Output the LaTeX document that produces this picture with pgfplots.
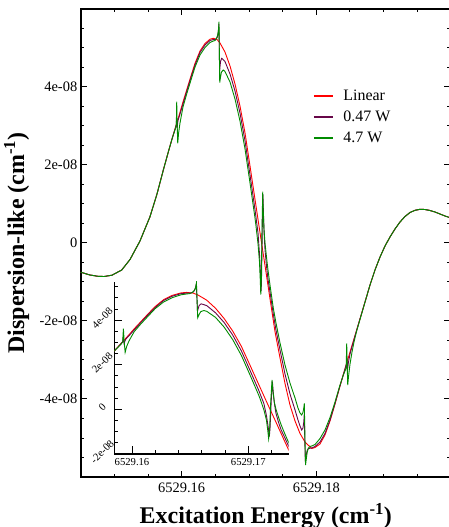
\documentclass[border=0pt]{standalone}
\usepackage{fontspec}
\setmainfont{Liberation Serif}
\usepackage{pgfplots}
\usepackage{pgfplotstable}
\pgfplotsset{compat=1.18}

\definecolor{linred}{RGB}{255,0,0}
\definecolor{lowpow}{RGB}{103,7,72}
\definecolor{highpow}{RGB}{0,139,0}

% x: excitation energy minus 6529 cm^-1; y: dispersion-like signal (cm^-1)
\pgfplotstableread{
x y
0.14500 -0.7500e-8
0.14637 -0.8205e-8
0.14756 -0.8538e-8
0.14846 -0.8590e-8
0.14964 -0.8256e-8
0.15109 -0.6923e-8
0.15232 -0.4231e-8
0.15380 0.0513e-8
0.15529 0.6744e-8
0.15633 1.2564e-8
0.15727 1.8718e-8
0.15801 2.3333e-8
0.15856 2.6667e-8
0.15926 3.0692e-8
0.15975 3.3513e-8
0.16019 3.6154e-8
0.16074 3.9231e-8
0.16138 4.2821e-8
0.16198 4.6077e-8
0.16272 4.9231e-8
0.16346 5.1154e-8
0.16421 5.2256e-8
0.16470 5.2487e-8
0.16525 5.2179e-8
0.16569 5.1282e-8
0.16643 4.8974e-8
0.16718 4.5385e-8
0.16792 4.0769e-8
0.16866 3.5128e-8
0.16941 2.8205e-8
0.17015 1.9744e-8
0.17089 1.1205e-8
0.17163 0.2692e-8
0.17238 -0.5795e-8
0.17312 -1.4308e-8
0.17386 -2.2692e-8
0.17461 -2.9487e-8
0.17535 -3.6026e-8
0.17609 -4.1538e-8
0.17684 -4.5641e-8
0.17758 -4.8846e-8
0.17832 -5.1026e-8
0.17932 -5.2692e-8
0.17981 -5.2436e-8
0.18055 -5.1538e-8
0.18129 -4.9231e-8
0.18204 -4.5641e-8
0.18278 -4.1282e-8
0.18352 -3.6667e-8
0.18426 -3.2308e-8
0.18501 -2.7949e-8
0.18600 -2.2308e-8
0.18724 -1.5128e-8
0.18798 -1.0769e-8
0.18872 -0.6923e-8
0.18947 -0.3590e-8
0.19021 -0.0769e-8
0.19095 0.1538e-8
0.19169 0.3590e-8
0.19244 0.5385e-8
0.19318 0.6795e-8
0.19392 0.7821e-8
0.19467 0.8385e-8
0.19541 0.8641e-8
0.19615 0.8590e-8
0.19689 0.8333e-8
0.19764 0.7949e-8
0.19838 0.7436e-8
0.19912 0.6923e-8
0.20000 0.6410e-8
}\linear

\pgfplotstableread{
x y
0.14500 -0.7500e-8
0.14637 -0.8205e-8
0.14756 -0.8538e-8
0.14846 -0.8590e-8
0.14964 -0.8256e-8
0.15109 -0.6923e-8
0.15232 -0.4231e-8
0.15380 0.0513e-8
0.15529 0.6744e-8
0.15633 1.2564e-8
0.15727 1.8718e-8
0.15801 2.3333e-8
0.15856 2.6667e-8
0.15908 2.9615e-8
0.15920 3.0385e-8
0.15924 3.2051e-8
0.15932 2.9487e-8
0.15945 3.1410e-8
0.15975 3.3077e-8
0.16019 3.5641e-8
0.16074 3.8846e-8
0.16138 4.2436e-8
0.16198 4.5641e-8
0.16272 4.8846e-8
0.16346 5.0769e-8
0.16421 5.1923e-8
0.16470 5.2179e-8
0.16502 5.2179e-8
0.16528 5.2692e-8
0.16542 5.3846e-8
0.16553 5.6154e-8
0.16559 4.9487e-8
0.16563 4.4103e-8
0.16577 4.6538e-8
0.16594 4.7359e-8
0.16614 4.7051e-8
0.16643 4.6538e-8
0.16718 4.3333e-8
0.16792 3.8974e-8
0.16866 3.3333e-8
0.16941 2.6154e-8
0.17015 1.7436e-8
0.17089 0.8590e-8
0.17134 0.2564e-8
0.17156 -0.2821e-8
0.17171 -0.7949e-8
0.17181 -1.2308e-8
0.17187 -0.8205e-8
0.17198 0.4615e-8
0.17207 1.2436e-8
0.17214 0.7949e-8
0.17226 0.2051e-8
0.17238 -0.1795e-8
0.17260 -0.5897e-8
0.17282 -0.9231e-8
0.17312 -1.2564e-8
0.17361 -1.8205e-8
0.17401 -2.2308e-8
0.17461 -2.7436e-8
0.17535 -3.3590e-8
0.17609 -3.8718e-8
0.17684 -4.2821e-8
0.17728 -4.5385e-8
0.17758 -4.6923e-8
0.17783 -4.7949e-8
0.17802 -4.7436e-8
0.17814 -4.5897e-8
0.17822 -4.3667e-8
0.17829 -5.0513e-8
0.17837 -5.6154e-8
0.17850 -5.4359e-8
0.17866 -5.3077e-8
0.17884 -5.2692e-8
0.17932 -5.2564e-8
0.17981 -5.2179e-8
0.18055 -5.1026e-8
0.18129 -4.8846e-8
0.18204 -4.5385e-8
0.18278 -4.1154e-8
0.18352 -3.6667e-8
0.18426 -3.2308e-8
0.18449 -3.0897e-8
0.18453 -2.8974e-8
0.18462 -3.2821e-8
0.18478 -3.0513e-8
0.18501 -2.8462e-8
0.18531 -2.6538e-8
0.18600 -2.2308e-8
0.18724 -1.5128e-8
0.18798 -1.0769e-8
0.18872 -0.6923e-8
0.18947 -0.3590e-8
0.19021 -0.0769e-8
0.19095 0.1538e-8
0.19169 0.3590e-8
0.19244 0.5385e-8
0.19318 0.6795e-8
0.19392 0.7821e-8
0.19467 0.8385e-8
0.19541 0.8641e-8
0.19615 0.8590e-8
0.19689 0.8333e-8
0.19764 0.7949e-8
0.19838 0.7436e-8
0.19912 0.6923e-8
0.20000 0.6410e-8
}\lowW

\pgfplotstableread{
x y
0.14500 -0.7500e-8
0.14637 -0.8205e-8
0.14756 -0.8538e-8
0.14846 -0.8590e-8
0.14964 -0.8256e-8
0.15109 -0.6923e-8
0.15232 -0.4231e-8
0.15380 0.0513e-8
0.15529 0.6744e-8
0.15633 1.2564e-8
0.15727 1.8718e-8
0.15801 2.3333e-8
0.15856 2.6667e-8
0.15886 2.8205e-8
0.15908 2.9359e-8
0.15920 3.0256e-8
0.15926 3.6231e-8
0.15933 3.0256e-8
0.15941 2.5564e-8
0.15954 2.8205e-8
0.15975 3.0769e-8
0.16019 3.4872e-8
0.16074 3.8205e-8
0.16138 4.1795e-8
0.16198 4.5128e-8
0.16272 4.8205e-8
0.16346 5.0128e-8
0.16421 5.1410e-8
0.16470 5.1795e-8
0.16495 5.1923e-8
0.16517 5.2436e-8
0.16535 5.3333e-8
0.16547 5.4615e-8
0.16554 5.6744e-8
0.16559 4.9487e-8
0.16565 4.1103e-8
0.16577 4.2564e-8
0.16591 4.3846e-8
0.16618 4.4359e-8
0.16643 4.3974e-8
0.16718 4.1282e-8
0.16792 3.6923e-8
0.16866 3.1282e-8
0.16941 2.4103e-8
0.17015 1.5385e-8
0.17089 0.6410e-8
0.17104 0.4359e-8
0.17134 -0.0256e-8
0.17156 -0.4872e-8
0.17168 -0.9744e-8
0.17175 -1.3205e-8
0.17183 -0.9487e-8
0.17193 0.3333e-8
0.17204 1.3154e-8
0.17211 0.8462e-8
0.17223 0.3333e-8
0.17238 0
0.17260 -0.3590e-8
0.17282 -0.6923e-8
0.17312 -1.0769e-8
0.17361 -1.6667e-8
0.17401 -2.0513e-8
0.17461 -2.5641e-8
0.17535 -3.1282e-8
0.17609 -3.5897e-8
0.17684 -3.9744e-8
0.17728 -4.2308e-8
0.17758 -4.3590e-8
0.17783 -4.4103e-8
0.17802 -4.3462e-8
0.17814 -4.2308e-8
0.17822 -4.1103e-8
0.17829 -4.7949e-8
0.17840 -5.6923e-8
0.17851 -5.5385e-8
0.17865 -5.3590e-8
0.17881 -5.2641e-8
0.17906 -5.2179e-8
0.17932 -5.2051e-8
0.17981 -5.1667e-8
0.18055 -5.0128e-8
0.18129 -4.7949e-8
0.18204 -4.4744e-8
0.18278 -4.0769e-8
0.18352 -3.6410e-8
0.18397 -3.4103e-8
0.18426 -3.2821e-8
0.18444 -3.2051e-8
0.18452 -2.5718e-8
0.18459 -3.1282e-8
0.18467 -3.6410e-8
0.18478 -3.4359e-8
0.18501 -3.1026e-8
0.18531 -2.7949e-8
0.18560 -2.5385e-8
0.18600 -2.2564e-8
0.18724 -1.5128e-8
0.18798 -1.0769e-8
0.18872 -0.6923e-8
0.18947 -0.3590e-8
0.19021 -0.0769e-8
0.19095 0.1538e-8
0.19169 0.3590e-8
0.19244 0.5385e-8
0.19318 0.6795e-8
0.19392 0.7821e-8
0.19467 0.8385e-8
0.19541 0.8641e-8
0.19615 0.8590e-8
0.19689 0.8333e-8
0.19764 0.7949e-8
0.19838 0.7436e-8
0.19912 0.6923e-8
0.20000 0.6410e-8
}\highW

\begin{document}
\begin{tikzpicture}
\useasboundingbox (-80.75bp,-50bp) rectangle (368.25bp,477bp);

% full scan
\begin{axis}[
  at={(0,0)}, anchor=south west,
  scale only axis, width=370.15bp, height=468bp,
  xmin=0.145, xmax=0.2, ymin=-6e-8, ymax=6e-8,
  scaled x ticks=false, scaled y ticks=false,
  xtick={0.16,0.18}, xticklabels={6529.16,6529.18},
  minor xtick={0.145,0.15,0.155,0.165,0.17,0.175,0.185,0.19,0.195},
  ytick={-4e-8,-2e-8,0,2e-8,4e-8},
  yticklabels={-4e-08,-2e-08,0,2e-08,4e-08},
  minor ytick={-5.5e-8,-5e-8,-4.5e-8,-3.5e-8,-3e-8,-2.5e-8,-1.5e-8,-1e-8,-0.5e-8,
               0.5e-8,1e-8,1.5e-8,2.5e-8,3e-8,3.5e-8,4.5e-8,5e-8,5.5e-8},
  tick align=inside,
  major tick length=6.5bp, minor tick length=3.5bp,
  tick style={black, line width=1bp},
  axis line style={line width=1.6bp},
  ticklabel style={font=\fontsize{14.5}{17}\selectfont},
  xticklabel style={yshift=-2bp},
  xlabel={Excitation Energy (cm\textsuperscript{-1})},
  ylabel={Dispersion-like (cm\textsuperscript{-1})},
  label style={font=\fontsize{24}{28}\selectfont\bfseries},
  xlabel style={at={(axis description cs:0.5,-0.0989)}, anchor=base},
  ylabel style={at={(axis description cs:-0.1533,0.5)}, anchor=base},
  legend style={at={(0.6274,0.8318)}, anchor=north west, draw=none, fill=none,
    inner sep=0pt, row sep=5bp, column sep=8bp,
    font=\fontsize{16}{19}\selectfont},
  legend cell align=left,
  legend image code/.code={\draw[#1] (0bp,0bp) -- (19bp,0bp);},
]
\addplot[linred, line width=0.9bp, forget plot] table[x=x, y=y] {\linear};
\addplot[lowpow, line width=0.9bp, forget plot] table[x=x, y=y] {\lowW};
\addplot[highpow, line width=0.9bp, forget plot] table[x=x, y=y] {\highW};
\addlegendimage{draw=linred, line width=1.2bp}
\addlegendentry{Linear}
\addlegendimage{draw=lowpow, line width=1.2bp}
\addlegendentry{0.47 W}
\addlegendimage{draw=highpow, line width=1.2bp}
\addlegendentry{4.7 W}
\end{axis}

% enlarged view of the central region
\begin{axis}[
  at={(33.55bp,23.2bp)}, anchor=south west,
  scale only axis, width=174.4bp, height=172.1bp,
  xmin=0.158478, xmax=0.173474, ymin=-2e-8, ymax=5.73e-8,
  scaled x ticks=false, scaled y ticks=false,
  axis x line*=bottom, axis y line*=left,
  xtick={0.16,0.17}, xticklabels={6529.16,6529.17},
  minor xtick={0.162,0.164,0.166,0.168,0.172},
  ytick={-2e-8,0,2e-8,4e-8}, yticklabels={-2e-08,0,2e-08,4e-08},
  minor ytick={-1.5e-8,-1e-8,-0.5e-8,0.5e-8,1e-8,1.5e-8,2.5e-8,3e-8,3.5e-8,4.5e-8,5e-8,5.5e-8},
  tick align=inside,
  major tick length=7.5bp, minor tick length=4bp,
  tick style={black, line width=1bp},
  axis line style={line width=1.5bp},
  ticklabel style={font=\fontsize{10.7}{12}\selectfont},
  xticklabel style={yshift=-1.5bp},
  yticklabel style={xshift=-12bp, yshift=2bp, rotate=45, anchor=center},
]
\addplot[linred, line width=0.9bp] table[x=x, y=y] {\linear};
\addplot[lowpow, line width=0.9bp] table[x=x, y=y] {\lowW};
\addplot[highpow, line width=0.9bp] table[x=x, y=y] {\highW};
\end{axis}
\end{tikzpicture}
\end{document}
